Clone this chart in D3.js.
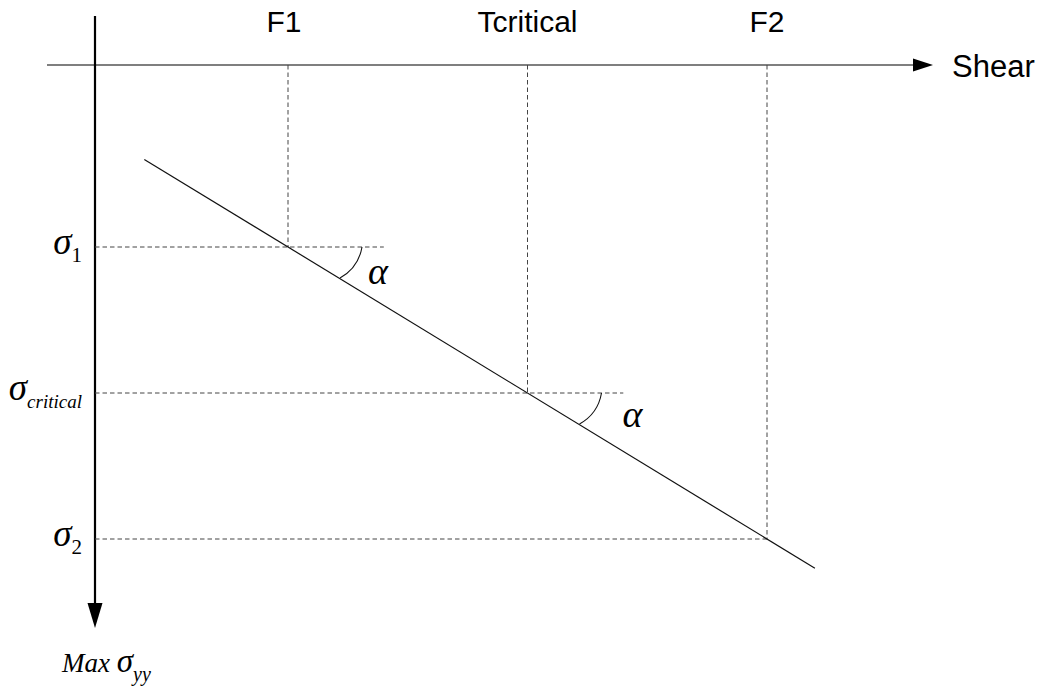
<!DOCTYPE html>
<html>
<head>
<meta charset="utf-8">
<script src="https://cdn.jsdelivr.net/npm/d3@7"></script>
<style>
  html, body { margin: 0; padding: 0; background: #fff; }
  svg { display: block; }
</style>
</head>
<body>
<svg id="chart" width="1044" height="695"></svg>
<script>
// Shear positions of the marked states and their labels
const shearNames = ["F1", "Tcritical", "F2"];
const shearValues = [1, 2, 3];
// Max stress levels on the vertical axis
const sigmaSubs = ["1", "critical", "2"];
const sigmaValues = [1, 2, 3];
// Straight failure line (shear, stress) end points
const lineShear = [0.4, 3.2];
const lineSigma = [0.4, 3.2];
// How far each horizontal guide runs past its intersection
const guideExtra = [0.4, 0.4, 0];
// Which intersections carry an angle mark
const angleMarks = [0, 1];

const svg = d3.select("#chart");

const x = d3.scaleLinear().domain([0, 1]).range([48.5, 288]);
const y = d3.scaleLinear().domain([0, 1]).range([101, 247]);

const axisX = 95;          // vertical axis position (px)
const axisY = 65;          // horizontal axis position (px)
const serif = "Liberation Serif, Times New Roman, serif";
const sans = "Liberation Sans, Arial, sans-serif";

// Horizontal (shear) axis with arrow
svg.append("line")
  .attr("x1", 47).attr("x2", 914)
  .attr("y1", axisY).attr("y2", axisY)
  .attr("stroke", "#555").attr("stroke-width", 1.5);
svg.append("path")
  .attr("d", `M913,${axisY - 6.5} L933,${axisY} L913,${axisY + 6.5} Z`)
  .attr("fill", "#000");
svg.append("text")
  .attr("x", 952).attr("y", 77)
  .attr("font-family", sans)
  .attr("font-size", 31)
  .attr("fill", "#000")
  .text("Shear");

// Vertical (stress) axis with arrow
svg.append("line")
  .attr("x1", axisX).attr("x2", axisX)
  .attr("y1", 16).attr("y2", 606)
  .attr("stroke", "#000").attr("stroke-width", 2.2);
svg.append("path")
  .attr("d", `M${axisX - 7.5},603 L${axisX},628 L${axisX + 7.5},603 Z`)
  .attr("fill", "#000");
const maxLbl = svg.append("text")
  .attr("x", 62).attr("y", 672)
  .attr("font-family", serif)
  .attr("font-style", "italic")
  .attr("fill", "#000");
maxLbl.append("tspan").attr("font-size", 27).text("Max ");
maxLbl.append("tspan").attr("font-size", 33).text("σ");
maxLbl.append("tspan").attr("dy", 9).attr("font-size", 20).text("yy");

// Dashed guides
const guides = svg.append("g")
  .attr("stroke", "#444").attr("stroke-width", 1)
  .attr("stroke-dasharray", "4.5,3").attr("fill", "none");
shearValues.forEach((s, i) => {
  const sig = sigmaValues[i];
  guides.append("line")
    .attr("x1", x(s)).attr("x2", x(s))
    .attr("y1", axisY).attr("y2", y(sig));
  guides.append("line")
    .attr("x1", axisX).attr("x2", x(s + guideExtra[i]))
    .attr("y1", y(sig)).attr("y2", y(sig));
});

// Failure line
svg.append("line")
  .attr("x1", x(lineShear[0])).attr("y1", y(lineSigma[0]))
  .attr("x2", x(lineShear[1])).attr("y2", y(lineSigma[1]))
  .attr("stroke", "#111").attr("stroke-width", 1.2);

// Shear labels above the axis
svg.append("g").selectAll("text")
  .data(shearNames)
  .join("text")
  .attr("x", (d, i) => x(shearValues[i]) - (i === 0 ? 4 : 0))
  .attr("y", 32)
  .attr("text-anchor", "middle")
  .attr("font-family", sans)
  .attr("font-size", 30)
  .attr("fill", "#000")
  .text(d => d);

// Stress labels left of the axis
const sigG = svg.append("g");
sigmaSubs.forEach((sub, i) => {
  const t = sigG.append("text")
    .attr("x", 82).attr("y", y(sigmaValues[i]) + 7)
    .attr("text-anchor", "end")
    .attr("font-family", serif)
    .attr("font-style", "italic")
    .attr("fill", "#000");
  t.append("tspan").attr("font-size", 37).text("σ");
  t.append("tspan")
    .attr("dy", 8)
    .attr("font-size", sub.length > 1 ? 19 : 21)
    .attr("font-style", sub.length > 1 ? "italic" : "normal")
    .text(sub);
});

// Angle marks between the guide and the failure line
const alphaOffsets = [[90, 37], [105, 34]];
angleMarks.forEach((i, k) => {
  const px = x(shearValues[i]), py = y(sigmaValues[i]);
  svg.append("path")
    .attr("d", `M${px + 74},${py} A44,44 0 0,1 ${px + 52},${py + 31}`)
    .attr("fill", "none").attr("stroke", "#111").attr("stroke-width", 1.1);
  svg.append("text")
    .attr("x", px + alphaOffsets[k][0]).attr("y", py + alphaOffsets[k][1])
    .attr("text-anchor", "middle")
    .attr("font-family", serif)
    .attr("font-style", "italic")
    .attr("font-size", 38)
    .attr("fill", "#000")
    .text("α");
});
</script>
</body>
</html>
